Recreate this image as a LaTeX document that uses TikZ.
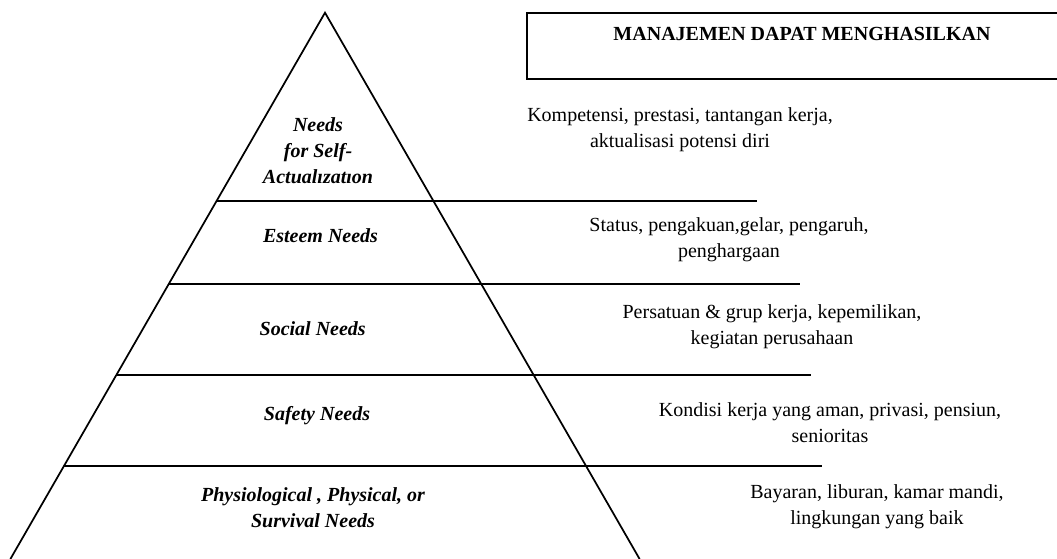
\documentclass[tikz,border=0pt]{standalone}
\usepackage{fontspec}
\setmainfont{Liberation Serif}
\usepackage{tikz}
\def\slope{0.5758}

\begin{document}
\begin{tikzpicture}[x=0.75pt,y=-0.75pt,line width=1.3pt]
    \tikzstyle{level}=[font=\fontsize{15pt}{19.5pt}\selectfont\bfseries\itshape, align=center]
    \tikzstyle{result}=[font=\fontsize{15pt}{19.5pt}\selectfont, align=center]
    \tikzstyle{title}=[font=\fontsize{15pt}{19.5pt}\selectfont\bfseries]

    \clip (0,0) rectangle (1057,559);

    % Draw the pyramid
    \coordinate (top) at (325,12.7);
    \coordinate (bl) at (10.4,559);
    \coordinate (br) at (639.6,559);
    \draw (bl) -- (top) -- (br);

    % Draw the level lines, from the left side out to the right
    \foreach \name / \y / \xr in {1/201/757, 2/284.3/800, 3/375/811, 4/466/822} {
        \coordinate (L-\name) at ({325-\slope*(\y-12.7)},\y);
        \coordinate (R-\name) at (\xr,\y);
        \draw (L-\name) -- (R-\name);
    }

    % The box on the right (open at the page edge)
    \draw (527.3,12.7) rectangle (1080,79);
    \node[title] (head) at (802,34) {MANAJEMEN DAPAT MENGHASILKAN};

    % Name the levels
    \node[level] (N-1) at (318,150.5) {Needs\\for Self-\\Actualızatıon};
    \node[level] (N-2) at (320.5,236) {Esteem Needs};
    \node[level] (N-3) at (312.7,328.3) {Social Needs};
    \node[level] (N-4) at (317,415.3) {Safety Needs};
    \node[level] (N-5) at (313,507.7) {Physiological , Physical, or\\Survival Needs};

    % What management gives on each level
    \node[result] (G-1) at (680,129.8) {Kompetensi, prestasi, tantangan kerja,\\aktualisasi potensi diri};
    \node[result] (G-2) at (729,239.8) {Status, pengakuan,gelar, pengaruh,\\penghargaan};
    \node[result] (G-3) at (772,326.8) {Persatuan \& grup kerja, kepemilikan,\\kegiatan perusahaan};
    \node[result] (G-4) at (830,422.5) {Kondisi kerja yang aman, privasi, pensiun,\\senioritas};
    \node[result] (G-5) at (877,506.5) {Bayaran, liburan, kamar mandi,\\lingkungan yang baik};
\end{tikzpicture}
\end{document}
